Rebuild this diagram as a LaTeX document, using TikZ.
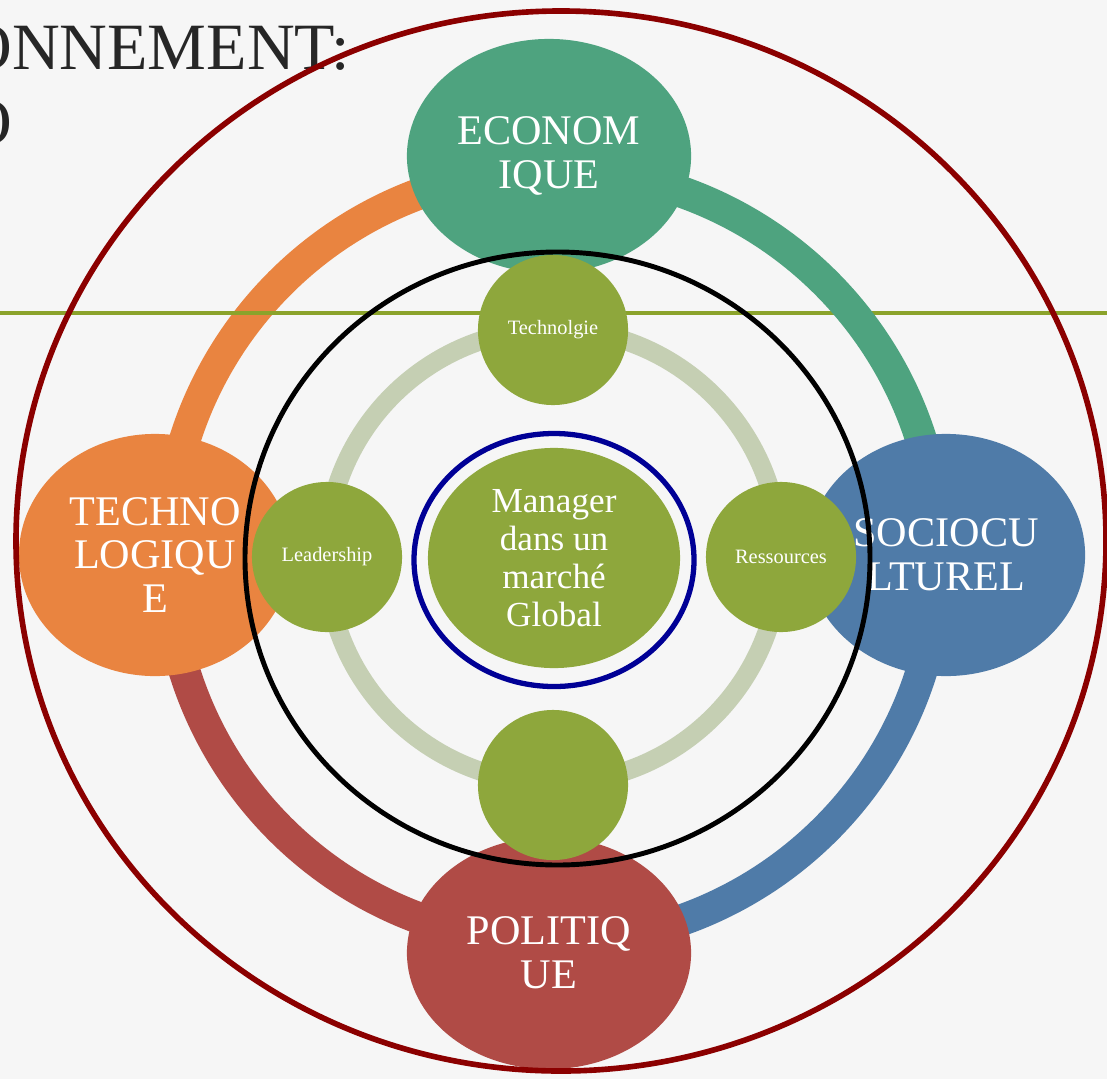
\documentclass[tikz,border=0pt]{standalone}
\usepackage{fontspec}
\setmainfont{Liberation Serif}
\usetikzlibrary{shapes.geometric}
\definecolor{bgc}{RGB}{246,246,246}
\definecolor{cecon}{RGB}{78,163,127}
\definecolor{corange}{RGB}{233,132,64}
\definecolor{cblue}{RGB}{79,123,168}
\definecolor{cred}{RGB}{176,75,70}
\definecolor{cgreen}{RGB}{142,167,60}
\definecolor{cring}{RGB}{197,207,179}
\definecolor{cline}{RGB}{139,163,43}
\definecolor{cdred}{RGB}{139,0,0}
\definecolor{cnavy}{RGB}{0,0,150}
\definecolor{ctitle}{RGB}{38,38,38}
\tikzset{
  titletext/.style={inner sep=0pt, anchor=base east, text=ctitle, font=\fontsize{18.8}{20}\selectfont},
  bigell/.style={ellipse, inner sep=0pt, text=white, align=center, font=\fontsize{12}{12.4}\selectfont},
  smallc/.style={circle, fill=cgreen, minimum size=1.5cm, inner sep=0pt, text=white, font=\fontsize{5.8}{6.5}\selectfont},
  band/.style={line width=9pt},
  innerband/.style={line width=5.4pt, cring},
}
\begin{document}
\begin{tikzpicture}[x=0.01cm,y=0.01cm]
\fill[bgc] (0,0) rectangle (1107,-1079);
\useasboundingbox (0,0) rectangle (1107,-1079);
\clip (0,0) rectangle (1107,-1079);
% title (cut off at the left edge)
\node[titletext] (title1) at (351,-70) {ENVIRONNEMENT:};
\node[titletext] (title2) at (13,-145) {MACRO};
% outer colored ring
\coordinate (ctr) at (553,-556);
\draw[band, corange] (ctr) ++(90:386) arc[start angle=90,end angle=180,radius=386];
\coordinate (lineL) at (0,-313);
\coordinate (lineR) at (1107,-313);
\draw[line width=1pt, cline] (lineL) -- (lineR);
\draw[band, cecon] (ctr) ++(0:386) arc[start angle=0,end angle=90,radius=386];
\draw[band, cblue] (ctr) ++(-90:386) arc[start angle=-90,end angle=0,radius=386];
\draw[band, cred] (ctr) ++(180:386) arc[start angle=180,end angle=270,radius=386];
% big ellipses
\node[bigell, fill=cecon, minimum width=2.84cm, minimum height=2.34cm] (eco) at (549,-156) {ECONOM\\IQUE};
\node[bigell, fill=corange, minimum width=2.72cm, minimum height=2.42cm] (tech) at (155,-555) {TECHNO\\LOGIQU\\E};
\node[bigell, fill=cblue, minimum width=2.78cm, minimum height=2.42cm] (soc) at (946,-555) {SOCIOCU\\LTUREL};
\node[bigell, fill=cred, minimum width=2.84cm, minimum height=2.32cm] (pol) at (549,-953) {POLITIQ\\UE};
% inner ring
\draw[innerband] (ctr) circle[radius=227];
% small circles
\node[smallc] (tn) at (553,-330) {Technolgie};
\node[smallc] (ld) at (327,-557) {Leadership};
\node[smallc] (rs) at (781,-557) {Ressources};
\node[smallc] (bt) at (553,-785) {};
% centre
\node[ellipse, fill=cgreen, minimum width=2.52cm, minimum height=2.20cm, inner sep=0pt, text=white, align=center, font=\fontsize{10}{10.8}\selectfont] (mgr) at (554,-558) {Manager\\dans un\\marché\\Global};
\coordinate (navyc) at (554,-560);
\draw[cnavy, line width=1.5pt] (navyc) ellipse[x radius=140, y radius=126.5];
\coordinate (blackc) at (557.5,-558.5);
\draw[black, line width=1.4pt] (blackc) ellipse[x radius=312.5, y radius=306.5];
\coordinate (redc) at (561,-541);
\draw[cdred, line width=1.6pt] (redc) ellipse[x radius=545, y radius=530];
\end{tikzpicture}
\end{document}
